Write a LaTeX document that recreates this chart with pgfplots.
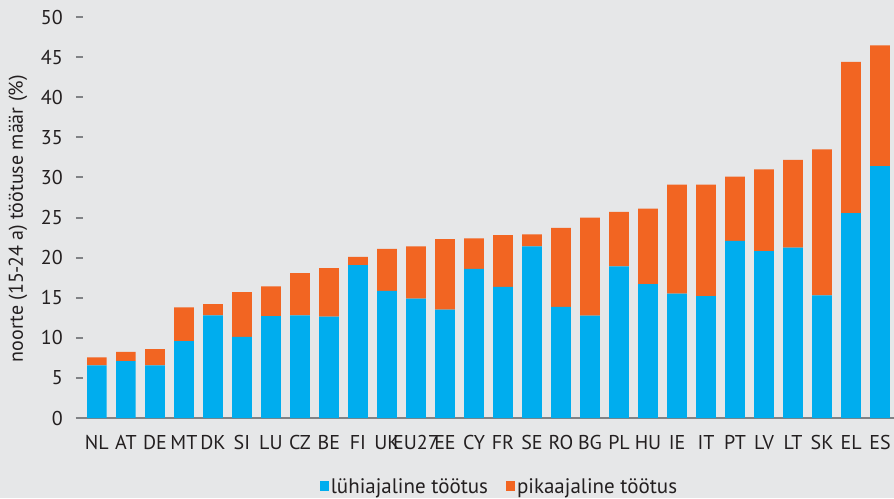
\documentclass[border=0pt]{standalone}
\usepackage{fontspec}
\setmainfont{PT Sans}
\usepackage{pgfplots}
\usepackage{pgfplotstable}
\pgfplotsset{compat=1.18}
\definecolor{bg}{HTML}{E6E7E8}
\definecolor{cblue}{HTML}{00ADEE}
\definecolor{corange}{HTML}{F26522}
\definecolor{axgray}{HTML}{808285}
\definecolor{txt}{HTML}{231F20}

\pgfplotstableread{
x short long
0 6.55 1.0
1 7.1 1.15
2 6.55 2.05
3 9.6 4.2
4 12.8 1.4
5 10.1 5.6
6 12.7 3.7
7 12.8 5.25
8 12.65 6.05
9 19.05 1.05
10 15.85 5.25
11 14.9 6.5
12 13.5 8.8
13 18.6 3.8
14 16.35 6.45
15 21.4 1.5
16 13.85 9.85
17 12.75 12.25
18 18.9 6.8
19 16.7 9.4
20 15.5 13.6
21 15.2 13.9
22 22.1 8.0
23 20.8 10.2
24 21.25 10.95
25 15.3 18.2
26 25.55 18.85
27 31.4 15.05
}\data

\begin{document}
\begin{tikzpicture}
\fill[bg] (0pt,0pt) rectangle (894pt,498pt);
\useasboundingbox (0pt,0pt) rectangle (894pt,498pt);
\begin{axis}[
  at={(76pt,80pt)}, anchor=south west,
  scale only axis, width=818pt, height=401pt,
  xmin=-0.72, xmax=27.48, ymin=0, ymax=50,
  ybar stacked, bar width=19.7pt,
  axis x line*=bottom, axis y line*=left,
  y axis line style={draw=none},
  x axis line style={-, draw=axgray, line width=2.3pt},
  xtick=data,
  xticklabels={NL,AT,DE,MT,DK,SI,LU,CZ,BE,FI,UK,EU27,EE,CY,FR,SE,RO,BG,PL,HU,IE,IT,PT,LV,LT,SK,EL,ES},
  xtick style={draw=none},
  ytick={0,5,...,50},
  ytick style={draw=axgray, line width=2pt},
  major tick length=7pt, tick align=inside,
  /pgf/number format/assume math mode=true,
  tick label style={font=\fontsize{20}{24}\selectfont, text=txt},
  yticklabel style={anchor=east, inner sep=0pt, xshift=-13pt},
  xticklabel style={anchor=north, inner sep=0pt, yshift=-17pt},
  ylabel={noorte (15\kern-1pt-\kern-1pt24 a) töötuse määr (\%)},
  ylabel style={at={(axis description cs:-0.071,0.497)}, anchor=center, font=\fontsize{20}{23}\selectfont, text=txt},
  legend columns=2,
  legend style={at={(0.5177,-0.171)}, anchor=center, draw=none, fill=none,
    font=\fontsize{21}{24}\selectfont, text=txt,
    /tikz/every even column/.append style={column sep=16pt}},
  legend image code/.code={\fill[#1] (0pt,-4.5pt) rectangle (9pt,5.5pt);},
]
\addplot[fill=cblue, draw=none] table[x=x, y=short] {\data};
\addplot[fill=corange, draw=none] table[x=x, y=long] {\data};
\legend{lühiajaline töötus, pikaajaline töötus}
\end{axis}
\end{tikzpicture}
\end{document}
